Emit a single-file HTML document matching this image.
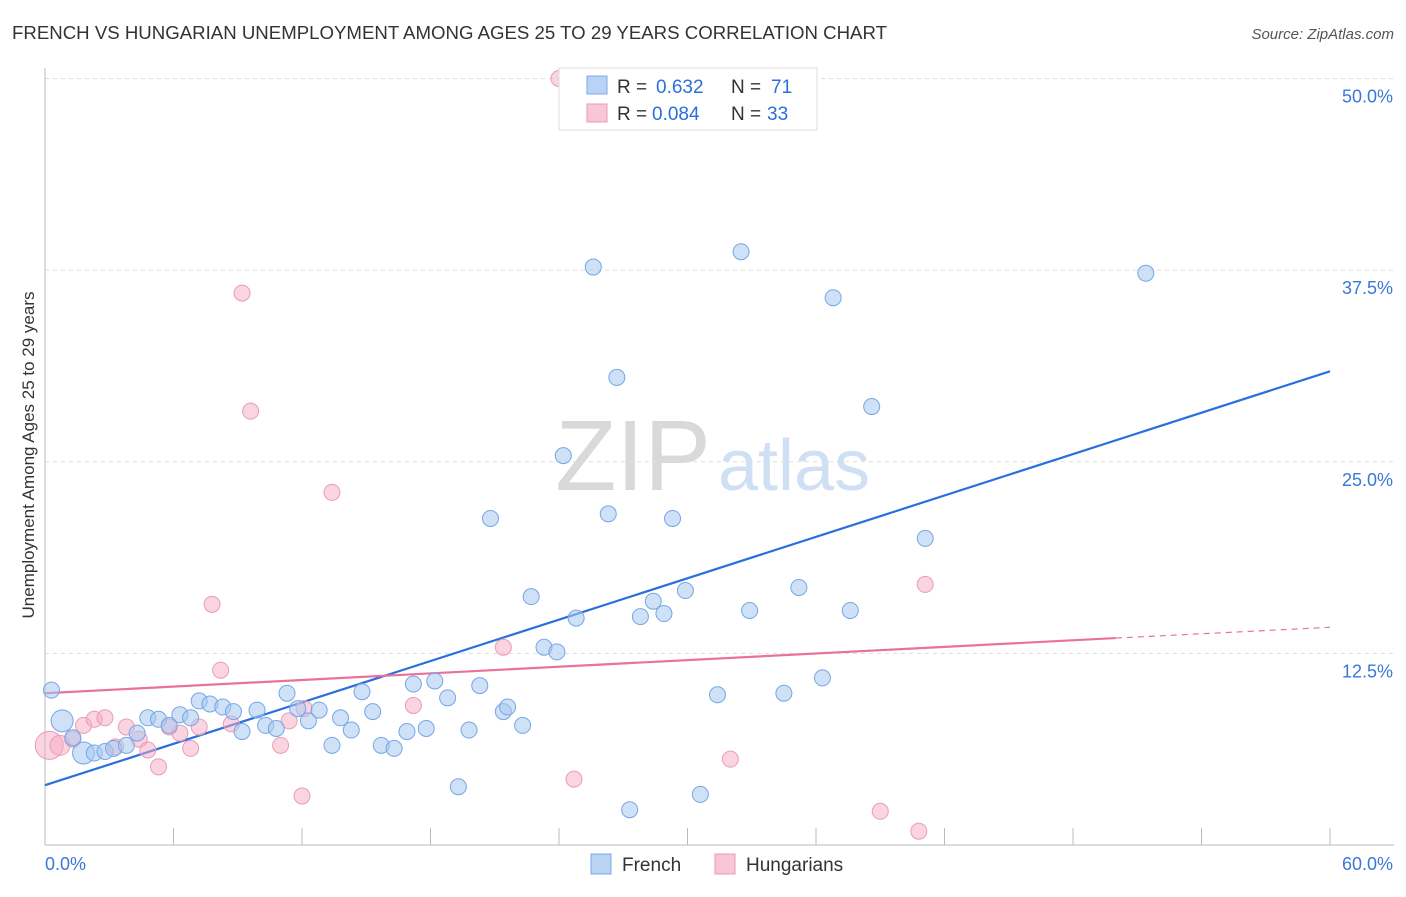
<!DOCTYPE html>
<html><head><meta charset="utf-8"><style>
body{margin:0;background:#fff;font-family:"Liberation Sans",sans-serif}
svg text{font-family:"Liberation Sans",sans-serif}
</style></head><body>
<svg id="chart" width="1406" height="892" xmlns="http://www.w3.org/2000/svg">
<text x="12" y="39" font-size="18.6" fill="#333" textLength="875" lengthAdjust="spacingAndGlyphs">FRENCH VS HUNGARIAN UNEMPLOYMENT AMONG AGES 25 TO 29 YEARS CORRELATION CHART</text>
<text x="1394" y="39" font-size="15" fill="#555" text-anchor="end" font-style="italic">Source: ZipAtlas.com</text>
<text x="633" y="490" font-size="100" text-anchor="middle" fill="#d9d9d9" font-family="Liberation Serif">ZIP</text>
<text x="718" y="490" font-size="72" fill="#cfe0f5">atlas</text>
<text transform="translate(34,455) rotate(-90)" font-size="17" fill="#333" text-anchor="middle">Unemployment Among Ages 25 to 29 years</text>
<g id="grid"></g><g id="axes"></g><g id="lines"></g><g id="pts"></g>
<g>
<rect x="559" y="68" width="258" height="62" fill="#fff" stroke="#ddd"/>
<rect x="587" y="76" width="20" height="18" fill="#b9d3f5" stroke="#7ba8e6"/>
<text x="617" y="93" font-size="19" fill="#333">R =</text>
<text x="656" y="93" font-size="19" fill="#2a6fdb">0.632</text>
<text x="731" y="93" font-size="19" fill="#333">N =</text>
<text x="771" y="93" font-size="19" fill="#2a6fdb">71</text>
<rect x="587" y="104" width="20" height="18" fill="#f9c6d5" stroke="#ec9ab3"/>
<text x="617" y="120" font-size="19" fill="#333">R =</text>
<text x="652" y="120" font-size="19" fill="#2a6fdb">0.084</text>
<text x="731" y="120" font-size="19" fill="#333">N =</text>
<text x="767" y="120" font-size="19" fill="#2a6fdb">33</text>
</g>
<g>
<rect x="591" y="854" width="20" height="20" fill="#b9d3f5" stroke="#7ba8e6"/>
<text x="622" y="871" font-size="19" fill="#333">French</text>
<rect x="715" y="854" width="20" height="20" fill="#f9c6d5" stroke="#ec9ab3"/>
<text x="746" y="871" font-size="19" fill="#333">Hungarians</text>
</g>
</svg>
<script>
const frenchX=[0.3,0.8,1.8,2.3,1.3,2.8,3.2,3.8,4.3,4.8,5.3,5.8,6.3,6.8,7.2,7.7,8.3,8.8,9.2,9.9,10.3,10.8,11.3,11.8,12.3,12.8,13.4,13.8,14.3,14.8,15.3,15.7,16.3,16.9,17.2,17.8,18.2,18.8,19.3,19.8,20.3,20.8,21.4,21.6,22.3,22.7,23.3,23.9,24.2,24.8,25.6,26.3,26.7,27.3,27.8,28.4,28.9,29.3,29.9,30.6,31.4,32.5,32.9,34.5,35.2,36.3,36.8,37.6,38.6,41.1,51.4];
const frenchY=[10.1,8.1,6.0,6.0,7.0,6.1,6.3,6.5,7.3,8.3,8.2,7.8,8.5,8.3,9.4,9.2,9.0,8.7,7.4,8.8,7.8,7.6,9.9,8.9,8.1,8.8,6.5,8.3,7.5,10.0,8.7,6.5,6.3,7.4,10.5,7.6,10.7,9.6,3.8,7.5,10.4,21.3,8.7,9.0,7.8,16.2,12.9,12.6,25.4,14.8,37.7,21.6,30.5,2.3,14.9,15.9,15.1,21.3,16.6,3.3,9.8,38.7,15.3,9.9,16.8,10.9,35.7,15.3,28.6,20.0,37.3];
const frenchR=[8,11,11,8,8,8,8,8,8,8,8,8,8,8,8,8,8,8,8,8,8,8,8,8,8,8,8,8,8,8,8,8,8,8,8,8,8,8,8,8,8,8,8,8,8,8,8,8,8,8,8,8,8,8,8,8,8,8,8,8,8,8,8,8,8,8,8,8,8,8,8];
const hunX=[0.2,0.7,1.3,1.8,2.3,2.8,3.3,3.8,4.4,4.8,5.3,5.8,6.3,6.8,7.2,7.8,8.2,8.7,9.2,9.6,11.0,11.4,12.0,12.1,13.4,17.2,21.4,24.0,24.7,32.0,39.0,40.8,41.1];
const hunY=[6.5,6.5,6.9,7.8,8.2,8.3,6.4,7.7,6.9,6.2,5.1,7.7,7.3,6.3,7.7,15.7,11.4,7.9,36.0,28.3,6.5,8.1,3.2,8.9,23.0,9.1,12.9,50.0,4.3,5.6,2.2,0.9,17.0];
const hunR=[14,10,8,8,8,8,8,8,8,8,8,8,8,8,8,8,8,8,8,8,8,8,8,8,8,8,8,8,8,8,8,8,8];
const xTicks=[0,6,12,18,24,30,36,42,48,54,60];
const yTicks=[12.5,25,37.5,50];
const yTickLabels=["12.5%","25.0%","37.5%","50.0%"];
const frenchLine=[0,3.9,60,30.9];
const hunLine=[0,9.9,50,13.5,60,14.2];
const NS="http://www.w3.org/2000/svg";
const sx=v=>45+v*21.417, sy=v=>845-v*15.33;
function mk(t,a,p){const e=document.createElementNS(NS,t);for(const k in a)e.setAttribute(k,a[k]);document.getElementById(p).appendChild(e);return e;}
yTicks.forEach((v,i)=>{
 const g=mk('line',{x1:45,x2:1394,y1:sy(v),y2:sy(v),stroke:'#ddd','stroke-dasharray':'4,4'},'grid');
 
 
 const t=mk('text',{x:1393,y:sy(v)+24,'font-size':18,fill:'#3a78d8','text-anchor':'end'},'axes');
 t.textContent=yTickLabels[i];
 
 
});
mk('line',{x1:45,x2:45,y1:68,y2:845,stroke:'#bbb'},'axes');
mk('line',{x1:45,x2:1394,y1:845,y2:845,stroke:'#bbb'},'axes');
xTicks.forEach(v=>{const l=mk('line',{x1:sx(v),x2:sx(v),y1:828,y2:845,stroke:'#bbb'},'axes');
 
 });
let t0=mk('text',{x:45,y:870,'font-size':18,fill:'#3a78d8'},'axes');t0.textContent='0.0%';


let t1=mk('text',{x:1393,y:870,'font-size':18,fill:'#3a78d8','text-anchor':'end'},'axes');t1.textContent='60.0%';


hunX.forEach((x,i)=>{const c=mk('circle',{cx:sx(x),cy:sy(hunY[i]),r:hunR[i],fill:'rgba(245,170,195,0.5)',stroke:'#eb9cb5','stroke-width':1},'pts');
 
 });
frenchX.forEach((x,i)=>{const c=mk('circle',{cx:sx(x),cy:sy(frenchY[i]),r:frenchR[i],fill:'rgba(168,200,240,0.55)',stroke:'#76a6e4','stroke-width':1},'pts');
 
 });
const bl=mk('line',{x1:sx(frenchLine[0]),y1:sy(frenchLine[1]),x2:sx(frenchLine[2]),y2:sy(frenchLine[3]),stroke:'#2a6fdb','stroke-width':2.2},'lines');


const pl=mk('line',{x1:sx(hunLine[0]),y1:sy(hunLine[1]),x2:sx(hunLine[2]),y2:sy(hunLine[3]),stroke:'#e8729a','stroke-width':2.2},'lines');


const pd=mk('line',{x1:sx(hunLine[2]),y1:sy(hunLine[3]),x2:sx(hunLine[4]),y2:sy(hunLine[5]),stroke:'#e8729a','stroke-width':1.2,'stroke-dasharray':'6,5'},'lines');


</script>
</body></html>
